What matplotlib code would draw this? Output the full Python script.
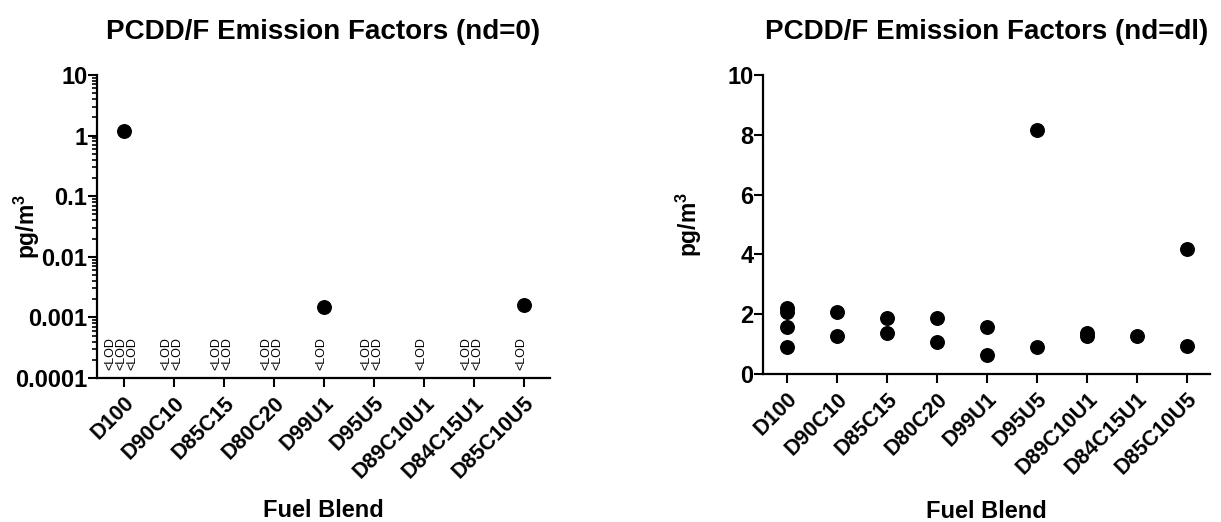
import matplotlib
matplotlib.use("Agg")
import matplotlib.pyplot as plt
import matplotlib.transforms as mtransforms
from matplotlib.ticker import LogLocator, NullFormatter, FixedLocator, FixedFormatter

plt.rcParams['font.family'] = ['Liberation Sans', 'DejaVu Sans']
plt.rcParams['mathtext.fontset'] = 'custom'
plt.rcParams['mathtext.rm'] = 'Liberation Sans:bold'
plt.rcParams['mathtext.bf'] = 'Liberation Sans:bold'
plt.rcParams['mathtext.it'] = 'Liberation Sans:bold'

categories = ["D100", "D90C10", "D85C15", "D80C20", "D99U1", "D95U5",
              "D89C10U1", "D84C15U1", "D85C10U5"]

# nd=0 panel: detected values (category index, value)
nd0_cat = [0, 4, 8]
nd0_val = [1.2, 0.0015, 0.0016]
# number of <LOD samples per category
lod_counts = [3, 2, 2, 2, 1, 2, 1, 2, 1]

# nd=dl panel
dl_cat = [0, 0, 0, 0, 1, 1, 2, 2, 3, 3, 4, 4, 5, 5, 6, 6, 7, 8, 8]
dl_val = [2.2, 2.07, 1.57, 0.9, 2.07, 1.27, 1.87, 1.36, 1.87, 1.07,
          1.57, 0.65, 8.17, 0.9, 1.37, 1.27, 1.27, 4.18, 0.94]

yticks_left = [10, 1, 0.1, 0.01, 0.001, 0.0001]
yticklabels_left = ["10", "1", "0.1", "0.01", "0.001", "0.0001"]
yticks_right = [0, 2, 4, 6, 8, 10]

fig = plt.figure(figsize=(12.21, 5.22), dpi=100)
ax1 = fig.add_axes([97/1221, 1-378/522, (550-97)/1221, (378-75)/522])
ax2 = fig.add_axes([763/1221, 1-374/522, (1210-763)/1221, (374-75)/522])

def style(ax, ylab_x, xlab_y):
    for s in ['top', 'right']:
        ax.spines[s].set_visible(False)
    for s in ['left', 'bottom']:
        ax.spines[s].set_linewidth(1.6)
    ax.tick_params(axis='both', which='major', length=6.5, width=1.5, direction='out')
    ax.tick_params(axis='y', which='major', labelsize=17, pad=0.5)
    ax.set_xticks(range(len(categories)))
    ax.set_xticklabels(categories, rotation=45, ha='right', rotation_mode='anchor',
                       fontsize=15.5, fontweight='bold')
    ax.tick_params(axis='x', which='major', pad=4)
    for lab in ax.get_yticklabels():
        lab.set_fontweight('bold')
    ax.set_xlabel("Fuel Blend", fontsize=17, fontweight='bold')
    ax.xaxis.set_label_coords(0.5, xlab_y)
    ax.set_ylabel(r"pg/m$^3$", fontsize=16.5, fontweight='bold')
    ax.yaxis.set_label_coords(ylab_x, 0.5)
    ax.yaxis.label.set_verticalalignment('center')

# Left panel
ax1.set_yscale('log')
ax1.set_ylim(0.0001, 10)
ax1.set_xlim(-0.54, 8.52)
ax1.scatter(nd0_cat, nd0_val, s=95, color='black', zorder=3, clip_on=False)
ax1.yaxis.set_major_locator(FixedLocator(yticks_left))
ax1.yaxis.set_major_formatter(FixedFormatter(yticklabels_left))
ax1.yaxis.set_minor_locator(LogLocator(base=10, subs=range(2, 10), numticks=20))
ax1.yaxis.set_minor_formatter(NullFormatter())
ax1.tick_params(axis='y', which='minor', length=3.5, width=1.2)
ax1.tick_params(axis='x', which='minor', length=0)
style(ax1, -0.155, -0.40)
ax1.set_title("PCDD/F Emission Factors (nd=0)", fontsize=20, fontweight='bold', pad=26)

trans = mtransforms.blended_transform_factory(ax1.transData, ax1.transAxes)
for i, n in enumerate(lod_counts):
    for k in range(n):
        off = (k - (n - 1) / 2) * 0.22 - 0.05
        ax1.text(i + off, 0.026, "<LOD", rotation=90, ha='center', va='bottom',
                 fontsize=9, transform=trans)

# Right panel
ax2.set_ylim(0, 10)
ax2.set_xlim(-0.48, 8.46)
ax2.scatter(dl_cat, dl_val, s=95, color='black', zorder=3, clip_on=False)
ax2.set_yticks(yticks_right)
ax2.set_yticklabels([str(v) for v in yticks_right])
style(ax2, -0.166, -0.42)
ax2.set_title("PCDD/F Emission Factors (nd=dl)", fontsize=20, fontweight='bold', pad=26)

fig.savefig("out.png", dpi=100)
